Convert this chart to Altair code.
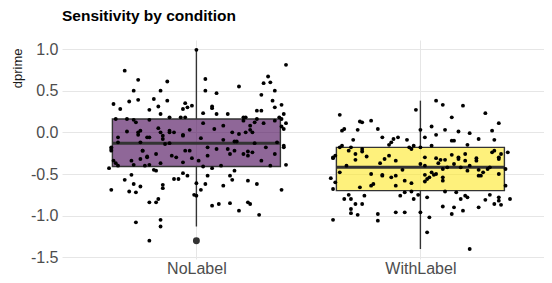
import altair as alt
import pandas as pd

# ---------------- data ----------------
categories = ["NoLabel", "WithLabel"]
fill_colors = ["#440154", "#FDE725"]

# box statistics
q1 = [-0.41, -0.70]
median = [-0.13, -0.42]
q3 = [0.16, -0.18]
whisker_low = [-1.13, -1.40]
whisker_high = [0.99, 0.38]
outlier_cond = ["NoLabel"]
outlier_val = [-1.30]

# jittered observations (horizontal jitter offset in category units, dprime value)
nolabel_jitter = [
    -0.00, -0.32, 0.40, -0.26, 0.04, -0.13, 0.32, 0.30, 0.33, -0.28,
    -0.16, 0.04, 0.09, 0.19, 0.29, 0.35, -0.26, -0.30, -0.19, -0.13,
    -0.05, -0.02, 0.07, 0.07, 0.34, -0.37, -0.34, -0.21, -0.17, -0.16,
    -0.06, -0.04, 0.03, 0.09, 0.14, 0.27, 0.29, 0.35, 0.38, 0.39,
    -0.12, -0.07, -0.05, 0.21, 0.22, 0.37, -0.36, -0.31, -0.28, -0.27,
    -0.21, 0.27, 0.38, 0.03, 0.12, 0.08, 0.02, 0.16, 0.19, 0.21,
    0.22, 0.24, 0.25, 0.24, 0.26, 0.30, 0.35, 0.38, 0.39, 0.40,
    0.17, 0.12, 0.36, 0.39, -0.35, -0.31, -0.26, -0.25, -0.26, -0.22,
    -0.21, -0.17, -0.16, -0.15, -0.15, -0.12, -0.12, -0.10, -0.06, -0.06,
    -0.03, -0.35, -0.25, -0.12, -0.38, -0.38, -0.38, -0.37, -0.36, -0.35,
    -0.39, -0.24, -0.24, -0.22, -0.22, -0.18, -0.21, -0.19, -0.18, -0.16,
    -0.14, -0.11, -0.09, -0.06, -0.05, -0.03, -0.02, 0.01, 0.03, 0.05,
    0.05, 0.09, 0.11, 0.14, 0.15, 0.17, 0.18, 0.21, 0.23, 0.25,
    0.23, 0.26, 0.29, 0.31, 0.33, 0.35, 0.39, 0.40, -0.29, -0.28,
    -0.25, -0.23, -0.29, -0.32, -0.28, -0.25, -0.30, -0.27, -0.38, -0.15,
    -0.15, -0.10, -0.08, -0.06, -0.04, 0.00, 0.04, 0.05, 0.02, -0.01,
    -0.00, 0.07, 0.12, 0.15, 0.16, 0.17, 0.23, 0.27, 0.38, -0.21,
    -0.18, -0.17, 0.07, 0.10, 0.15, 0.19, 0.23, 0.24, 0.28, -0.27,
    -0.16, -0.16, -0.21,
]
nolabel_dprime = [
    0.99, 0.74, 0.81, 0.63, 0.64, 0.61, 0.67, 0.59, 0.60, 0.50,
    0.50, 0.50, 0.47, 0.55, 0.45, 0.50, 0.39, 0.37, 0.40, 0.38,
    0.35, 0.32, 0.31, 0.29, 0.38, 0.34, 0.28, 0.27, 0.31, 0.22,
    0.28, 0.30, 0.23, 0.22, 0.22, 0.26, 0.26, 0.30, 0.33, 0.22,
    0.18, 0.18, 0.18, 0.18, 0.18, 0.18, 0.16, 0.16, 0.15, 0.12,
    0.15, 0.16, 0.16, 0.11, 0.08, 0.04, -0.07, 0.00, -0.02, 0.14,
    0.00, 0.03, 0.00, 0.08, 0.12, 0.11, 0.14, 0.07, 0.04, 0.11,
    -0.11, -0.09, -0.12, -0.16, -0.06, 0.01, 0.00, 0.02, -0.03, -0.06,
    -0.06, 0.05, 0.00, -0.04, -0.08, 0.02, 0.00, 0.00, -0.03, -0.04,
    0.03, -0.12, -0.12, -0.13, -0.18, -0.20, -0.22, -0.34, -0.37, -0.40,
    -0.43, -0.22, -0.22, -0.29, -0.30, -0.26, -0.39, -0.45, -0.46, -0.37,
    -0.14, -0.28, -0.30, -0.36, -0.22, -0.22, -0.31, -0.34, -0.41, -0.18,
    -0.28, -0.20, -0.40, -0.20, -0.26, -0.22, -0.11, -0.26, -0.23, -0.24,
    -0.28, -0.13, -0.34, -0.18, -0.40, -0.26, -0.18, -0.39, -0.34, -0.39,
    -0.32, -0.40, -0.51, -0.57, -0.62, -0.65, -0.71, -0.72, -0.69, -0.63,
    -0.67, -0.56, -0.56, -0.49, -0.52, -0.61, -0.62, -0.52, -0.69, -0.75,
    -0.76, -0.43, -0.64, -0.52, -0.57, -0.46, -0.58, -0.62, -0.69, -0.84,
    -0.84, -0.80, -0.88, -0.86, -0.85, -0.94, -0.84, -0.86, -0.99, -1.08,
    -1.05, -1.13, -1.30,
]
withlabel_jitter = [
    0.07, 0.10, 0.19, -0.02, 0.29, -0.36, 0.14, -0.27, -0.26, -0.22,
    0.05, 0.35, -0.35, -0.34, -0.28, -0.19, -0.00, 0.11, 0.17, 0.22,
    0.32, 0.07, 0.02, -0.17, -0.30, -0.12, -0.10, -0.13, -0.14, -0.06,
    0.14, 0.15, 0.26, 0.33, -0.03, -0.04, -0.05, -0.00, 0.05, 0.21,
    -0.36, -0.35, -0.31, -0.26, -0.39, -0.39, -0.38, -0.32, -0.29, -0.29,
    -0.26, -0.24, -0.16, -0.14, -0.18, -0.11, -0.33, -0.36, -0.40, -0.38,
    -0.39, -0.27, -0.22, -0.22, -0.21, -0.17, -0.17, -0.13, -0.11, -0.11,
    -0.08, -0.07, -0.04, -0.04, 0.02, 0.02, 0.02, 0.03, 0.04, 0.05,
    0.06, 0.07, 0.07, 0.09, 0.11, 0.08, 0.10, 0.10, 0.12, 0.14,
    0.15, 0.17, 0.17, 0.18, 0.20, 0.20, 0.21, 0.22, 0.25, 0.26,
    0.27, 0.28, 0.30, 0.31, 0.32, 0.33, 0.35, 0.35, 0.36, 0.35,
    0.38, 0.38, 0.39, 0.11, 0.16, 0.25, 0.00, 0.02, 0.10, 0.26,
    -0.32, -0.34, -0.31, -0.25, -0.29, -0.26, -0.31, -0.31, -0.28, -0.19,
    -0.19, -0.39, -0.09, -0.07, -0.11, -0.07, -0.03, -0.01, 0.03, -0.00,
    0.04, 0.03, 0.10, 0.15, 0.19, 0.14, 0.18, 0.20, 0.21, 0.26,
    0.29, 0.31, 0.33, 0.35, 0.36, 0.35, 0.40, 0.22,
]
withlabel_dprime = [
    0.38, 0.33, 0.32, 0.27, 0.23, 0.21, 0.18, 0.13, 0.12, 0.14,
    0.07, 0.11, 0.02, 0.04, 0.03, 0.04, 0.03, 0.03, 0.01, -0.01,
    0.02, -0.03, -0.06, -0.06, -0.09, -0.08, -0.06, -0.12, -0.15, -0.09,
    -0.10, -0.10, -0.08, -0.09, -0.16, -0.20, -0.18, -0.18, -0.16, -0.15,
    -0.18, -0.16, -0.18, -0.20, -0.30, -0.31, -0.28, -0.22, -0.26, -0.33,
    -0.23, -0.29, -0.32, -0.28, -0.37, -0.34, -0.40, -0.48, -0.55, -0.60,
    -0.68, -0.66, -0.50, -0.64, -0.62, -0.51, -0.52, -0.54, -0.52, -0.64,
    -0.45, -0.58, -0.61, -0.71, -0.30, -0.51, -0.59, -0.56, -0.54, -0.48,
    -0.51, -0.50, -0.31, -0.33, -0.33, -0.37, -0.58, -0.54, -0.42, -0.27,
    -0.38, -0.30, -0.32, -0.42, -0.26, -0.34, -0.46, -0.40, -0.31, -0.52,
    -0.52, -0.48, -0.44, -0.42, -0.24, -0.22, -0.30, -0.32, -0.26, -0.50,
    -0.44, -0.64, -0.24, -0.71, -0.72, -0.34, -0.38, -0.40, -0.44, -0.45,
    -0.75, -0.80, -0.80, -0.76, -0.86, -0.86, -0.92, -0.97, -0.99, -0.98,
    -1.06, -1.05, -0.76, -0.72, -0.96, -0.96, -0.80, -0.75, -0.78, -0.96,
    -1.02, -1.20, -0.89, -0.90, -0.94, -0.98, -0.80, -0.76, -0.78, -0.90,
    -0.81, -0.75, -0.86, -0.78, -0.87, -0.82, -0.80, -1.40,
]

y_tick_values = [-1.5, -1.25, -1.0, -0.75, -0.5, -0.25, 0.0, 0.25, 0.5, 0.75, 1.0]
y_tick_labels = ["-1.5", "", "-1.0", "", "-0.5", "", "0.0", "", "0.5", "", "1.0"]

# ---------------- tables ----------------
idx = {c: i + 1 for i, c in enumerate(categories)}
box_width = 0.75

box = pd.DataFrame({
    "cond": categories,
    "q1": q1, "median": median, "q3": q3,
    "lo": whisker_low, "hi": whisker_high,
})
box["pos"] = box["cond"].map(idx)
box["left"] = box["pos"] - box_width / 2
box["right"] = box["pos"] + box_width / 2

whisk = pd.concat([
    pd.DataFrame({"pos": box["pos"], "y1": box["q3"], "y2": box["hi"]}),
    pd.DataFrame({"pos": box["pos"], "y1": box["lo"], "y2": box["q1"]}),
])

outl = pd.DataFrame({"cond": outlier_cond, "dprime": outlier_val})
outl["pos"] = outl["cond"].map(idx)

pts = pd.concat([
    pd.DataFrame({"cond": "NoLabel", "jit": nolabel_jitter, "dprime": nolabel_dprime}),
    pd.DataFrame({"cond": "WithLabel", "jit": withlabel_jitter, "dprime": withlabel_dprime}),
])
pts["xpos"] = pts["cond"].map(idx) + pts["jit"]

# ---------------- scales / axes ----------------
FONT = "Liberation Sans"
width_px = 482
px_per_unit = 224.0
x_lo = 0.4
x_hi = x_lo + width_px / px_per_unit

y_label_expr = " : ".join(
    f"datum.value == {v} ? '{l}'" for v, l in zip(y_tick_values, y_tick_labels)
) + " : ''"
x_label_expr = " : ".join(
    f"datum.value == {i + 1} ? '{c}'" for i, c in enumerate(categories)
) + " : ''"

xscale = alt.Scale(domain=[x_lo, x_hi], nice=False, zero=False)
yscale = alt.Scale(domain=[-1.52, 1.108], nice=False, zero=False)

xaxis = alt.Axis(values=[1, 2], labelExpr=x_label_expr, title=None, ticks=False,
                 domain=False, grid=True, gridColor="#e6e6e6", labelFontSize=16,
                 labelColor="#4d4d4d", labelFont=FONT, labelPadding=1)
yaxis = alt.Axis(values=y_tick_values, labelExpr=y_label_expr, title="dprime",
                 titleAnchor="end", titleY=8, titleFontSize=13,
                 titleFontWeight="normal", titleColor="#1a1a1a", titleFont=FONT,
                 titlePadding=6, ticks=False, domain=False, grid=True,
                 gridColor="#e6e6e6", labelFontSize=16, labelColor="#4d4d4d",
                 labelFont=FONT, labelPadding=4)

fill_scale = alt.Scale(domain=categories, range=fill_colors)

grid_layer = alt.Chart(box).mark_point(opacity=0).encode(
    x=alt.X("pos:Q", scale=xscale, axis=xaxis),
    y=alt.Y("median:Q", scale=yscale, axis=yaxis),
)

boxes = alt.Chart(box).mark_rect(fillOpacity=0.6, stroke="#333333", strokeWidth=1.4).encode(
    x=alt.X("left:Q", scale=xscale),
    x2="right:Q",
    y=alt.Y("q1:Q", scale=yscale),
    y2="q3:Q",
    fill=alt.Fill("cond:N", scale=fill_scale, legend=None),
)

whiskers = alt.Chart(whisk).mark_rule(color="#333333", strokeWidth=1.4).encode(
    x=alt.X("pos:Q", scale=xscale),
    y=alt.Y("y1:Q", scale=yscale),
    y2="y2:Q",
)

medians = alt.Chart(box).mark_rule(color="#333333", strokeWidth=3).encode(
    x=alt.X("left:Q", scale=xscale),
    x2="right:Q",
    y=alt.Y("median:Q", scale=yscale),
)

outliers = alt.Chart(outl).mark_circle(color="#333333", opacity=1, size=48).encode(
    x=alt.X("pos:Q", scale=xscale),
    y=alt.Y("dprime:Q", scale=yscale),
)

points = alt.Chart(pts).mark_circle(color="#000000", opacity=1, size=15).encode(
    x=alt.X("xpos:Q", scale=xscale),
    y=alt.Y("dprime:Q", scale=yscale),
)

chart = alt.layer(grid_layer, boxes, whiskers, medians, outliers, points).properties(
    width=width_px,
    height=219,
    title=alt.TitleParams("Sensitivity by condition", anchor="start", frame="group",
                          fontSize=15.5, fontWeight="bold", font=FONT,
                          color="#000000", offset=16),
    autosize=alt.AutoSizeParams(type="none"),
    padding={"left": 54, "top": 32, "right": 0, "bottom": 16},
).configure_view(stroke=None)

chart.save("out.html", embed_options={"renderer": "svg", "actions": False})
